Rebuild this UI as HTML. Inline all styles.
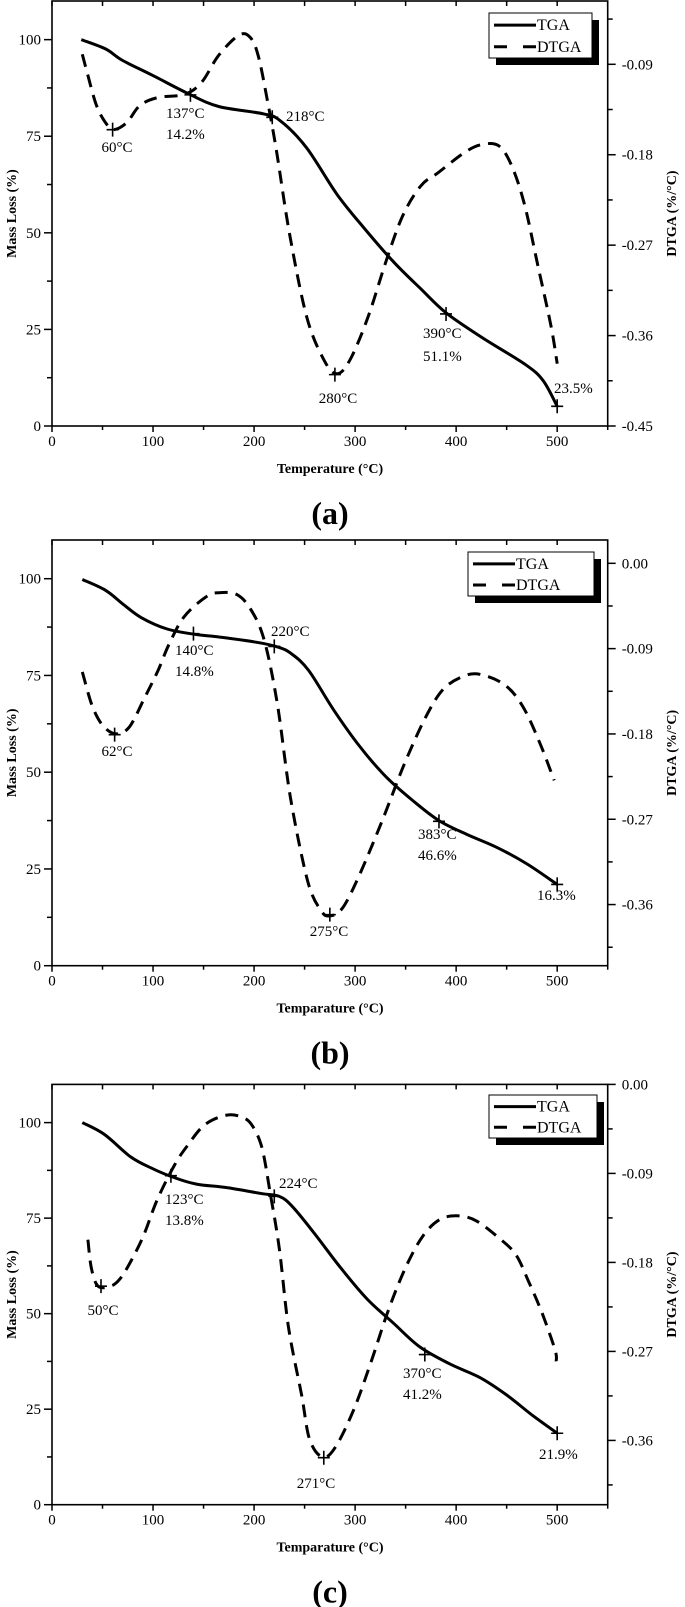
<!DOCTYPE html>
<html><head><meta charset="utf-8">
<style>
html,body{margin:0;padding:0;background:#fff;}
svg{display:block;}
text{font-family:"Liberation Serif",serif;fill:#000;}
</style></head>
<body>
<svg id="fig" width="685" height="1607" viewBox="0 0 685 1607" xmlns="http://www.w3.org/2000/svg"></svg>
<script>
// ---------- Panel (a) data ----------
const aTgaT=[29,53,70,100,135,165,209,226,252,282,308,338,365,390,425,468,486,500];
const aTgaM=[100,97.6,94.6,90.7,86,82.7,80.8,79,72,60,51.5,42.5,35.5,29.3,23,16,11.8,5.1];
const aDtgT=[30,35.5,44,53,61,74,87,105,131,148,165,185,196,204,213,222,235,252,269,282,295,313,330,347,365,382,408,425,442,455,468,481,494,500];
const aDtgD=[-0.080,-0.101,-0.131,-0.148,-0.155,-0.148,-0.131,-0.123,-0.120,-0.108,-0.081,-0.061,-0.063,-0.081,-0.125,-0.175,-0.258,-0.341,-0.384,-0.398,-0.384,-0.341,-0.288,-0.241,-0.211,-0.198,-0.178,-0.170,-0.171,-0.191,-0.231,-0.291,-0.351,-0.388];
const aMarkT=[60,137,218,280,390,500];
const aMarkM=[76.7,85.7,79.9,13.3,29,5.1];
const aRightTicks=["-0.09","-0.18","-0.27","-0.36","-0.45"];
// ---------- Panel (b) data ----------
const bTgaT=[30,53,70,88,114,142,166,202,224,237,254,279,305,331,357,383,410,440,470,500];
const bTgaM=[99.8,97,93.5,90,87,85.6,84.9,83.6,82.3,80.6,76.3,66,56.5,48.7,42.7,37.5,34,30.6,26.3,21];
const bDtgT=[30,40,51,64,77,92,105,116,131,153,166,183,197,210,223,236,253,266,275,288,305,327,349,370,388,410,427,449,466,483,497];
const bDtgD=[-0.1145,-0.151,-0.172,-0.180,-0.172,-0.141,-0.113,-0.085,-0.056,-0.035,-0.031,-0.033,-0.049,-0.081,-0.148,-0.247,-0.335,-0.366,-0.372,-0.363,-0.327,-0.271,-0.211,-0.162,-0.132,-0.118,-0.118,-0.129,-0.151,-0.190,-0.229];
const bMarkT=[62,140,220,275,383,500];
const bMarkM=[59.7,85.8,82.5,13.2,37.3,21];
const bRightTicks=["0.00","-0.09","-0.18","-0.27","-0.36"];
// ---------- Panel (c) data ----------
const cTgaT=[30,52,78,100,121,143,173,208,225,238,260,286,312,338,364,394,424,450,476,500];
const cTgaM=[100,96.9,91,87.9,85.6,83.9,83,81.4,80.7,78,70.9,61.9,53.8,47.5,41.3,36.8,33.2,28.7,23.3,18.7];
const cDtgT=[35.5,39,45.5,58,67,78,91,104,121,134,151,173,190,199,208,216,225,234,247,255,268,281,299,316,333,351,368,385,403,420,442,459,472,485,498,499];
const cDtgD=[-0.157,-0.186,-0.204,-0.204,-0.197,-0.179,-0.152,-0.117,-0.082,-0.062,-0.041,-0.031,-0.034,-0.043,-0.065,-0.110,-0.166,-0.245,-0.314,-0.359,-0.377,-0.366,-0.328,-0.280,-0.228,-0.183,-0.152,-0.136,-0.133,-0.138,-0.155,-0.172,-0.200,-0.231,-0.269,-0.280];
const cMarkT=[48.5,117.7,220,269,369,500];
const cMarkM=[57.2,86.1,80.7,12.3,39.3,18.7];
const cRightTicks=["0.00","-0.09","-0.18","-0.27","-0.36"];
const xTickLabels=["0","100","200","300","400","500"];
const leftTickLabels=["0","25","50","75","100"];

const NS="http://www.w3.org/2000/svg";
const svg=document.getElementById('fig');
function mk(tag,attrs,parent){const e=document.createElementNS(NS,tag);for(const k in attrs)e.setAttribute(k,attrs[k]);(parent||svg).appendChild(e);return e;}
function smooth(pts){let d="M"+pts[0][0].toFixed(1)+","+pts[0][1].toFixed(1);
 for(let i=0;i<pts.length-1;i++){const p0=pts[i-1]||pts[i],p1=pts[i],p2=pts[i+1],p3=pts[i+2]||p2;
  const c1=[p1[0]+(p2[0]-p0[0])/6,p1[1]+(p2[1]-p0[1])/6],c2=[p2[0]-(p3[0]-p1[0])/6,p2[1]-(p3[1]-p1[1])/6];
  d+="C"+c1[0].toFixed(1)+","+c1[1].toFixed(1)+" "+c2[0].toFixed(1)+","+c2[1].toFixed(1)+" "+p2[0].toFixed(1)+","+p2[1].toFixed(1);}
 return d;}

function panel(P){
 const g=mk('g',{});
 
 
 const L=52,R=607.7,T=P.top,B=P.bottom;
 const xs=t=>L+(t/550)*(R-L);
 const yl=m=>B-(m/110)*(B-T);
 const yr=d=>B-(d-P.rmin)/(P.rmax-P.rmin)*(B-T);
 const frame=mk('rect',{x:L,y:T,width:R-L,height:B-T,fill:'none',stroke:'#000','stroke-width':1.6},g);
 
 
 for(let v=0;v<=550;v+=50){const x=xs(v);
  mk('line',{x1:x,y1:B,x2:x,y2:B+(v%100===0?6:4),stroke:'#000','stroke-width':1.5},g);
  mk('line',{x1:x,y1:T,x2:x,y2:T+5,stroke:'#000','stroke-width':1.5},g);}
 xTickLabels.forEach((s,i)=>{const t=mk('text',{x:xs(i*100),y:B+20,'text-anchor':'middle','font-size':15},g);t.textContent=s;
  
  });
 for(let v=0;v<=100;v+=12.5){const y=yl(v);mk('line',{x1:L-(v%25===0?8:5),y1:y,x2:L,y2:y,stroke:'#000','stroke-width':1.5},g);}
 leftTickLabels.forEach((s,i)=>{const t=mk('text',{x:L-11,y:yl(i*25)+5,'text-anchor':'end','font-size':15},g);t.textContent=s;
  
  });
 for(let k=0;k<20;k++){const v=-0.45+k*0.045;if(v>P.rmax+1e-6)break;if(v<P.rmin-1e-6)continue;const y=yr(v);
  const major=Math.abs(Math.round(v/0.09)*0.09-v)<1e-6;
  mk('line',{x1:R,y1:y,x2:R+(major?8:5),y2:y,stroke:'#000','stroke-width':1.5},g);}
 P.rticks.forEach(s=>{const t=mk('text',{x:R+14,y:yr(parseFloat(s))+5,'font-size':15},g);t.textContent=s;
  
  });
 const xt=mk('text',{x:330,y:B+47,'text-anchor':'middle','font-size':14,'font-weight':'bold'},g);xt.textContent=P.xtitle;
 
 
 const cy=(T+B)/2;
 const yt=mk('text',{x:16,y:cy,'text-anchor':'middle','font-size':14,'font-weight':'bold',transform:'rotate(-90 16 '+cy+')'},g);yt.textContent='Mass Loss (%)';
 
 
 const rt=mk('text',{x:676,y:cy,'text-anchor':'middle','font-size':14,'font-weight':'bold',transform:'rotate(-90 676 '+cy+')'},g);rt.textContent='DTGA (%/°C)';
 
 
 const pl=mk('text',{x:330,y:B+98,'text-anchor':'middle','font-size':32,'font-weight':'bold'},g);pl.textContent='('+P.id+')';
 
 
 const tg=mk('path',{d:smooth(P.tgaT.map((t,i)=>[xs(t),yl(P.tgaM[i])])),fill:'none',stroke:'#000','stroke-width':3},g);
 
 
 const dt=mk('path',{d:smooth(P.dT.map((t,i)=>[xs(t),yr(P.dD[i])])),fill:'none',stroke:'#000','stroke-width':3,'stroke-dasharray':'13 8'},g);
 
 
 P.mT.forEach((t,i)=>{const x=xs(t),y=yl(P.mM[i]);
  const m=mk('path',{d:`M${x-6},${y}H${x+6}M${x},${y-7}V${y+7}`,stroke:'#000','stroke-width':1.6},g);
  
  });
 P.ann.forEach(a=>{const t=mk('text',{x:a[1],y:a[2]+5,'font-size':15,'text-anchor':a[3]},g);t.textContent=a[0];
  
  });
 const lg=mk('g',{},g);
 
 
 const l=P.leg;
 mk('rect',{x:l[0]+7,y:l[1]+7,width:l[2]-l[0],height:l[3]-l[1],fill:'#000'},lg);
 mk('rect',{x:l[0],y:l[1],width:l[2]-l[0],height:l[3]-l[1],fill:'#fff',stroke:'#000','stroke-width':1},lg);
 const y1=l[1]+(l[3]-l[1])*0.27,y2=l[1]+(l[3]-l[1])*0.75;
 mk('line',{x1:l[0]+5,y1:y1,x2:l[0]+47,y2:y1,stroke:'#000','stroke-width':3},lg);
 mk('line',{x1:l[0]+5,y1:y2,x2:l[0]+47,y2:y2,stroke:'#000','stroke-width':3,'stroke-dasharray':'13 16'},lg);
 const t1=mk('text',{x:l[0]+48,y:y1+5,'font-size':16},lg);t1.textContent='TGA';
 
 
 const t2=mk('text',{x:l[0]+48,y:y2+5,'font-size':16},lg);t2.textContent='DTGA';
 
 
}

panel({id:'a',top:1,bottom:426,rmin:-0.45,rmax:-0.027,rticks:aRightTicks,xtitle:'Temperature (°C)',
 tgaT:aTgaT,tgaM:aTgaM,dT:aDtgT,dD:aDtgD,mT:aMarkT,mM:aMarkM,leg:[489,13,592,58],
 ann:[['60°C',117,147,'middle'],['137°C',166,113,'start'],['14.2%',166,134,'start'],['218°C',286,116,'start'],['280°C',338,398,'middle'],['390°C',423,333,'start'],['51.1%',423,356,'start'],['23.5%',554,388,'start']]});
panel({id:'b',top:540,bottom:965.7,rmin:-0.4245,rmax:0.0246,rticks:bRightTicks,xtitle:'Temparature (°C)',
 tgaT:bTgaT,tgaM:bTgaM,dT:bDtgT,dD:bDtgD,mT:bMarkT,mM:bMarkM,leg:[468,552,594,596],
 ann:[['62°C',117,751,'middle'],['140°C',175,650,'start'],['14.8%',175,671,'start'],['220°C',271,631,'start'],['275°C',329,931,'middle'],['383°C',418,834,'start'],['46.6%',418,855,'start'],['16.3%',537,895,'start']]});
panel({id:'c',top:1084.4,bottom:1504.7,rmin:-0.425,rmax:0.0,rticks:cRightTicks,xtitle:'Temparature (°C)',
 tgaT:cTgaT,tgaM:cTgaM,dT:cDtgT,dD:cDtgD,mT:cMarkT,mM:cMarkM,leg:[489,1095,597,1138],
 ann:[['50°C',103,1310,'middle'],['123°C',165,1199,'start'],['13.8%',165,1220,'start'],['224°C',279,1183,'start'],['271°C',316,1483,'middle'],['370°C',403,1373,'start'],['41.2%',403,1394,'start'],['21.9%',539,1454,'start']]});
</script>
</body></html>
